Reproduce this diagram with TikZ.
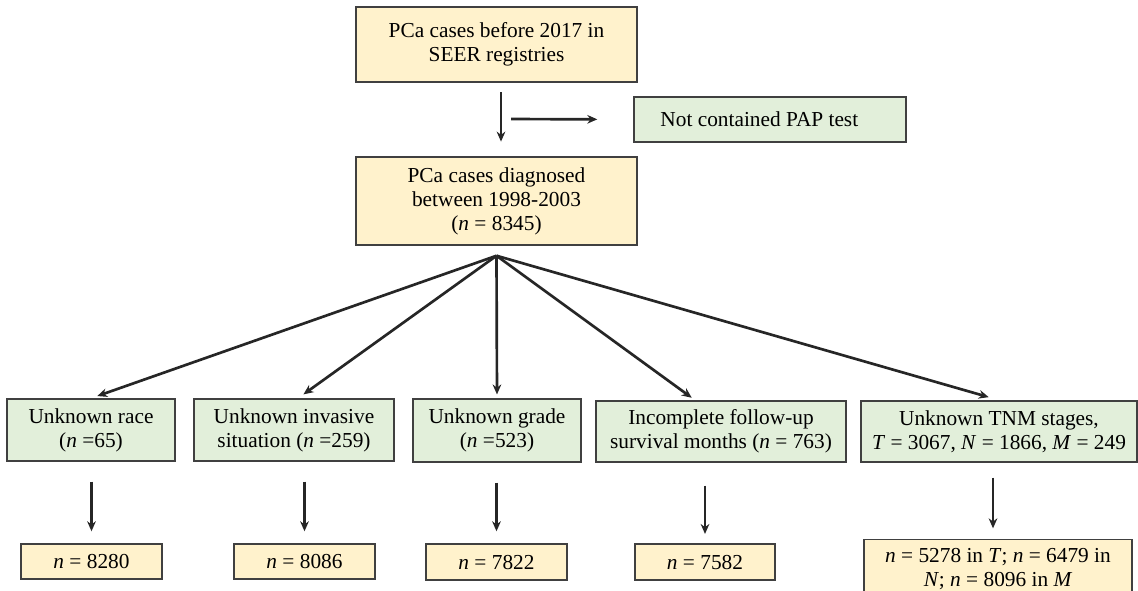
\documentclass[tikz,border=0pt]{standalone}
\usepackage{fontspec}
\setmainfont{Liberation Serif}
\usepackage{tikz}
\usetikzlibrary{arrows.meta}
\usetikzlibrary{positioning}
\definecolor{boxyellow}{HTML}{FFF2CC}
\definecolor{boxgreen}{HTML}{E2EFDA}
\definecolor{boxline}{HTML}{404040}
\tikzset{
    basebox/.style={draw=boxline, line width=1.1pt, align=center, inner sep=0pt,
        font=\fontsize{16}{18}\selectfont},
    yellowbox/.style={basebox, fill=boxyellow},
    greenbox/.style={basebox, fill=boxgreen},
    arr/.style={-{Stealth[length=7.5pt,width=6.5pt]}, line width=2pt, draw=black!85},
}

\begin{document}
\begin{tikzpicture}[x=0.75pt, y=-0.75pt]

            \clip (0,0) rectangle (1138,590);

            % Start and selection
            \node[yellowbox, minimum width=210.75pt, minimum height=56.25pt] (seer) at (496.5,44.5) {PCa cases before 2017 in\\SEER registries};
            \node[greenbox, minimum width=204pt, minimum height=33.75pt] (pap) at (770,119.5) {Not contained PAP test\hspace*{16pt}};
            \node[yellowbox, minimum width=210.75pt, minimum height=66pt] (diag) at (496.5,201) {PCa cases diagnosed\\between 1998-2003\\(\textit{n} = 8345)};

            % Excluded cases
            \node[greenbox, minimum width=126pt, minimum height=46.5pt] (race) at (91,430) {Unknown race\\(\textit{n} =65)};
            \node[greenbox, minimum width=150pt, minimum height=46.5pt] (invasive) at (294,430) {Unknown invasive\\situation (\textit{n} =259)};
            \node[greenbox, minimum width=126pt, minimum height=47pt] (grade) at (497,430.5) {Unknown grade\\(\textit{n} =523)};
            \node[greenbox, minimum width=187.5pt, minimum height=46pt] (followup) at (721,431.5) {Incomplete follow-up\\survival months (\textit{n} = 763)};
            \node[greenbox, minimum width=207pt, minimum height=46pt] (tnm) at (999,431.5) {Unknown TNM stages,\\\textit{T} = 3067, \textit{N} = 1866, \textit{M} = 249};

            % Remaining cases
            \node[yellowbox, minimum width=105.75pt, minimum height=26.25pt] (left1) at (91.5,561.5) {\textit{n} = 8280};
            \node[yellowbox, minimum width=105.75pt, minimum height=26.25pt] (left2) at (304.5,561.5) {\textit{n} = 8086};
            \node[yellowbox, minimum width=105.75pt, minimum height=27pt] (left3) at (496.5,562) {\textit{n} = 7822};
            \node[yellowbox, minimum width=105pt, minimum height=27pt] (left4) at (705,562) {\textit{n} = 7582};
            \node[yellowbox, minimum width=201pt, inner ysep=6.5pt, anchor=north] (left5) at (998,539) {\textit{n} = 5278 in \textit{T}; \textit{n} = 6479 in\\\textit{N}; \textit{n} = 8096 in \textit{M}\\~};

            % Relationships
            \coordinate (split) at (511,119);
            \coordinate (fan) at ([yshift=-7.5pt]diag.south);
            \draw[arr, shorten <=7pt, shorten >=11pt] (seer.south -| 501,0) -- (diag.north -| 501,0);
            \draw[arr, shorten >=27pt] (split) -- (pap.west);

            \draw[arr, shorten >=5pt] (fan) -- (race.north);
            \draw[arr, shorten >=5pt] (fan) -- ([xshift=3pt]invasive.north);
            \draw[arr, shorten >=3pt] (fan) -- (grade.north);
            \draw[arr, shorten >=3pt] (fan) -- ([xshift=-19.5pt]followup.north);
            \draw[arr, shorten >=8pt] (fan) -- (tnm.north);

            \draw[arr, shorten <=15pt, shorten >=9pt] (race.south -| left1.north) -- (left1.north);
            \draw[arr, shorten <=15pt, shorten >=9pt] (invasive.south -| left2.north) -- (left2.north);
            \draw[arr, shorten <=15pt, shorten >=9pt] (grade.south -| left3.north) -- (left3.north);
            \draw[arr, shorten <=17pt, shorten >=7pt] (followup.south -| left4.north) -- (left4.north);
            \draw[arr, shorten <=11pt, shorten >=8pt] (tnm.south -| 993,0) -- (left5.north -| 993,0);

        \end{tikzpicture}
\end{document}
